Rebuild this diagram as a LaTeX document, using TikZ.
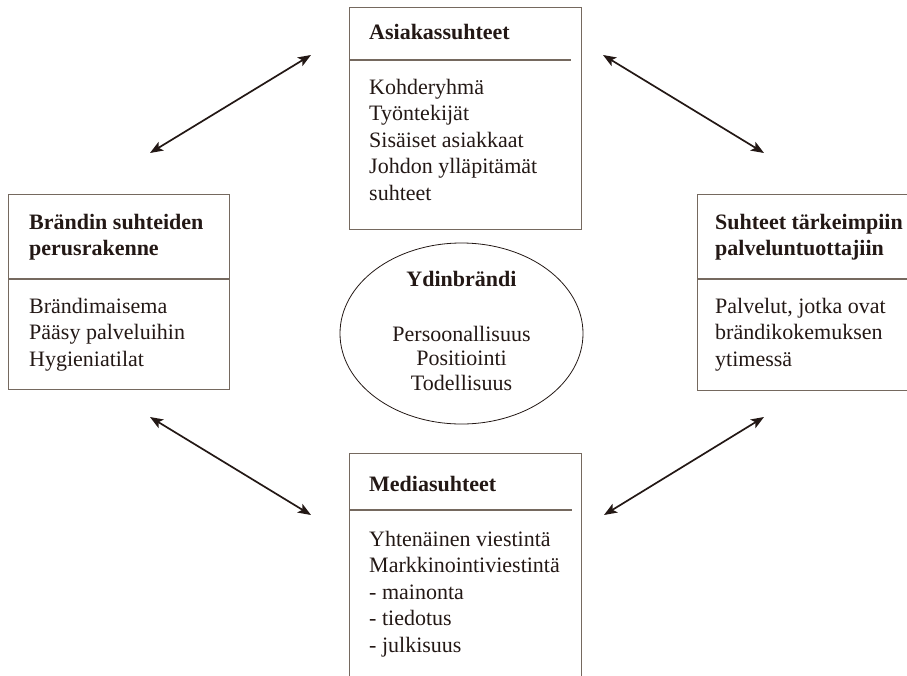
\documentclass[tikz,border=0pt]{standalone}
\usepackage{fontspec}
\setmainfont{Liberation Serif}
\usetikzlibrary{arrows.meta,shapes.geometric}
\definecolor{ink}{HTML}{231815}
\definecolor{frame}{HTML}{75695F}

\tikzset{
  boxline/.style={draw=frame, line width=1.2pt, rectangle, inner sep=0pt, anchor=north west},
  sepline/.style={draw=frame, line width=1.2pt},
  txt/.style={anchor=north west, inner sep=0pt, align=left, text=ink,
    font=\fontsize{22}{26.5}\selectfont},
  head/.style={txt, font=\fontsize{22}{26.5}\selectfont\bfseries},
  ctxt/.style={anchor=north, inner sep=0pt, align=center, text=ink,
    font=\fontsize{22}{24.5}\selectfont},
  chead/.style={ctxt, font=\fontsize{22}{24.5}\selectfont\bfseries},
  link/.style={draw=ink, line width=1.7pt,
    {Stealth[length=13pt,width=10pt,inset=3pt]}-{Stealth[length=13pt,width=10pt,inset=3pt]}},
}

\begin{document}
\begin{tikzpicture}[x=1pt,y=-1pt]
\useasboundingbox (0,0) rectangle (907,675);
\clip (0,0) rectangle (907,675);

% frames of the four relationship groups
\node[boxline, minimum width=232pt, minimum height=222pt] (asiakas) at (349,7) {};
\node[boxline, minimum width=221pt, minimum height=195pt] (perus) at (8,194) {};
\node[boxline, minimum width=260pt, minimum height=196pt] (palvelu) at (697,194) {};
\node[boxline, minimum width=232pt, minimum height=260pt] (media) at (349,453) {};

% header separators
\draw[sepline] (349,60) -- (571,60);
\draw[sepline] (8,279) -- (229,279);
\draw[sepline] (697,279) -- (920,279);
\draw[sepline] (349,510) -- (572,510);

% core brand
\node[draw=ink, line width=0.8pt, ellipse, minimum width=243pt, minimum height=181pt, inner sep=0pt]
  (ydin) at (461.5,333.5) {};

% texts: each block starts with a strut so its top lies 0.7\baselineskip above the first baseline
\node[head] (asiakasH) at (369,20.45) {\strut Asiakassuhteet};
\node[txt]  (asiakasT) at (369,75.45) {\strut Kohderyhmä\\Työntekijät\\Sisäiset asiakkaat\\Johdon ylläpitämät\\suhteet};

\node[head] (perusH) at (29,210.45) {\strut Brändin suhteiden\\perusrakenne};
\node[txt]  (perusT) at (29,294.45) {\strut Brändimaisema\\Pääsy palveluihin\\Hygieniatilat};

\node[head] (palveluH) at (715,210.45) {\strut Suhteet tärkeimpiin\\palveluntuottajiin};
\node[txt]  (palveluT) at (715,294.45) {\strut Palvelut, jotka ovat\\brändikokemuksen\\ytimessä};

\node[head] (mediaH) at (369,472.45) {\strut Mediasuhteet};
\node[txt]  (mediaT) at (369,527.45) {\strut Yhtenäinen viestintä\\Markkinointiviestintä\\- mainonta\\- tiedotus\\- julkisuus};

\node[chead] (ydinH) at (461.5,268.85) {\strut Ydinbrändi};
\node[ctxt]  (ydinT) at (461.5,323.85) {\strut Persoonallisuus\\Positiointi\\Todellisuus};

% two-headed arrows between the groups
\coordinate (a1s) at (150,153); \coordinate (a1e) at (311,55);
\coordinate (a2s) at (603,55);  \coordinate (a2e) at (764,153);
\coordinate (a3s) at (150,417); \coordinate (a3e) at (311,515);
\coordinate (a4s) at (764,417); \coordinate (a4e) at (604,515);
\draw[link] (a1s) -- (a1e);
\draw[link] (a2s) -- (a2e);
\draw[link] (a3s) -- (a3e);
\draw[link] (a4s) -- (a4e);
\end{tikzpicture}
\end{document}
